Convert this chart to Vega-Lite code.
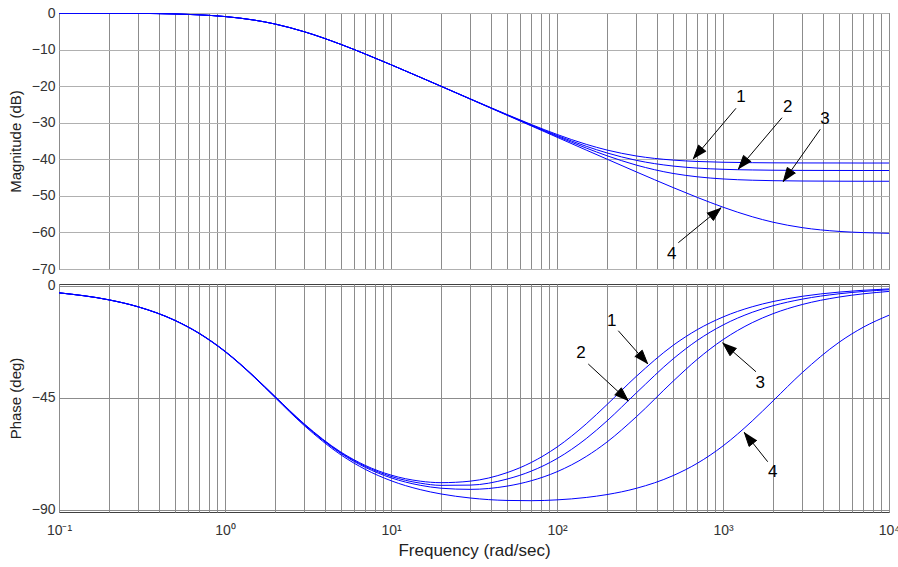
{
"$schema":"https://vega.github.io/schema/vega-lite/v6.json",
"padding":{"left":7,"top":5,"right":0,"bottom":0},
"background":"white",
"datasets":{
"bode":[
{"w":0.1,"c":"1","m":-0.01,"p":-2.84},{"w":0.2,"c":"1","m":-0.04,"p":-5.66},{"w":0.3,"c":"1","m":-0.10,"p":-8.46},{"w":0.5,"c":"1","m":-0.26,"p":-13.91},{"w":0.7,"c":"1","m":-0.50,"p":-19.11},{"w":1,"c":"1","m":-0.97,"p":-26.31},{"w":1.5,"c":"1","m":-1.94,"p":-36.49},{"w":2,"c":"1","m":-3.01,"p":-44.49},{"w":3,"c":"1","m":-5.12,"p":-55.55},{"w":5,"c":"1","m":-8.60,"p":-66.93},{"w":7,"c":"1","m":-11.22,"p":-72.27},{"w":10,"c":"1","m":-14.14,"p":-76.15},{"w":15,"c":"1","m":-17.56,"p":-78.60},{"w":20,"c":"1","m":-20.01,"p":-79.21},{"w":30,"c":"1","m":-23.46,"p":-78.60},{"w":50,"c":"1","m":-27.76,"p":-75.18},{"w":70,"c":"1","m":-30.48,"p":-71.08},{"w":100,"c":"1","m":-33.20,"p":-64.89},{"w":150,"c":"1","m":-35.91,"p":-55.55},{"w":200,"c":"1","m":-37.47,"p":-47.80},{"w":300,"c":"1","m":-39.09,"p":-36.49},{"w":500,"c":"1","m":-40.22,"p":-24.00},{"w":700,"c":"1","m":-40.60,"p":-17.66},{"w":1000,"c":"1","m":-40.81,"p":-12.57},{"w":1500,"c":"1","m":-40.93,"p":-8.45},{"w":2000,"c":"1","m":-40.97,"p":-6.36},{"w":3000,"c":"1","m":-41.00,"p":-4.25},{"w":5000,"c":"1","m":-41.01,"p":-2.56},{"w":7000,"c":"1","m":-41.02,"p":-1.82},{"w":10000,"c":"1","m":-41.02,"p":-1.28},
{"w":0.1,"c":"2","m":-0.01,"p":-2.84},{"w":0.2,"c":"2","m":-0.04,"p":-5.67},{"w":0.3,"c":"2","m":-0.10,"p":-8.47},{"w":0.5,"c":"2","m":-0.26,"p":-13.94},{"w":0.7,"c":"2","m":-0.50,"p":-19.15},{"w":1,"c":"2","m":-0.97,"p":-26.36},{"w":1.5,"c":"2","m":-1.94,"p":-36.57},{"w":2,"c":"2","m":-3.01,"p":-44.60},{"w":3,"c":"2","m":-5.12,"p":-55.71},{"w":5,"c":"2","m":-8.60,"p":-67.20},{"w":7,"c":"2","m":-11.22,"p":-72.64},{"w":10,"c":"2","m":-14.14,"p":-76.68},{"w":15,"c":"2","m":-17.57,"p":-79.40},{"w":20,"c":"2","m":-20.02,"p":-80.28},{"w":30,"c":"2","m":-23.49,"p":-80.18},{"w":50,"c":"2","m":-27.83,"p":-77.76},{"w":70,"c":"2","m":-30.63,"p":-74.56},{"w":100,"c":"2","m":-33.48,"p":-69.52},{"w":150,"c":"2","m":-36.44,"p":-61.48},{"w":200,"c":"2","m":-38.26,"p":-54.37},{"w":300,"c":"2","m":-40.28,"p":-43.15},{"w":500,"c":"2","m":-41.85,"p":-29.45},{"w":700,"c":"2","m":-42.41,"p":-21.99},{"w":1000,"c":"2","m":-42.74,"p":-15.80},{"w":1500,"c":"2","m":-42.92,"p":-10.68},{"w":2000,"c":"2","m":-42.99,"p":-8.05},{"w":3000,"c":"2","m":-43.04,"p":-5.39},{"w":5000,"c":"2","m":-43.06,"p":-3.24},{"w":7000,"c":"2","m":-43.07,"p":-2.31},{"w":10000,"c":"2","m":-43.07,"p":-1.62},
{"w":0.1,"c":"3","m":-0.01,"p":-2.85},{"w":0.2,"c":"3","m":-0.04,"p":-5.68},{"w":0.3,"c":"3","m":-0.10,"p":-8.49},{"w":0.5,"c":"3","m":-0.26,"p":-13.96},{"w":0.7,"c":"3","m":-0.50,"p":-19.19},{"w":1,"c":"3","m":-0.97,"p":-26.42},{"w":1.5,"c":"3","m":-1.94,"p":-36.66},{"w":2,"c":"3","m":-3.01,"p":-44.71},{"w":3,"c":"3","m":-5.12,"p":-55.88},{"w":5,"c":"3","m":-8.60,"p":-67.48},{"w":7,"c":"3","m":-11.22,"p":-73.05},{"w":10,"c":"3","m":-14.15,"p":-77.26},{"w":15,"c":"3","m":-17.57,"p":-80.26},{"w":20,"c":"3","m":-20.03,"p":-81.43},{"w":30,"c":"3","m":-23.52,"p":-81.90},{"w":50,"c":"3","m":-27.90,"p":-80.59},{"w":70,"c":"3","m":-30.75,"p":-78.43},{"w":100,"c":"3","m":-33.72,"p":-74.81},{"w":150,"c":"3","m":-36.93,"p":-68.68},{"w":200,"c":"3","m":-39.03,"p":-62.86},{"w":300,"c":"3","m":-41.58,"p":-52.75},{"w":500,"c":"3","m":-43.87,"p":-38.43},{"w":700,"c":"3","m":-44.79,"p":-29.58},{"w":1000,"c":"3","m":-45.38,"p":-21.69},{"w":1500,"c":"3","m":-45.72,"p":-14.85},{"w":2000,"c":"3","m":-45.85,"p":-11.25},{"w":3000,"c":"3","m":-45.94,"p":-7.55},{"w":5000,"c":"3","m":-45.99,"p":-4.55},{"w":7000,"c":"3","m":-46.01,"p":-3.25},{"w":10000,"c":"3","m":-46.01,"p":-2.28},
{"w":0.1,"c":"4","m":-0.01,"p":-2.86},{"w":0.2,"c":"4","m":-0.04,"p":-5.71},{"w":0.3,"c":"4","m":-0.10,"p":-8.52},{"w":0.5,"c":"4","m":-0.26,"p":-14.02},{"w":0.7,"c":"4","m":-0.50,"p":-19.27},{"w":1,"c":"4","m":-0.97,"p":-26.54},{"w":1.5,"c":"4","m":-1.94,"p":-36.83},{"w":2,"c":"4","m":-3.01,"p":-44.95},{"w":3,"c":"4","m":-5.12,"p":-56.23},{"w":5,"c":"4","m":-8.60,"p":-68.06},{"w":7,"c":"4","m":-11.22,"p":-73.86},{"w":10,"c":"4","m":-14.15,"p":-78.42},{"w":15,"c":"4","m":-17.58,"p":-82.00},{"w":20,"c":"4","m":-20.04,"p":-83.74},{"w":30,"c":"4","m":-23.54,"p":-85.37},{"w":50,"c":"4","m":-27.96,"p":-86.35},{"w":70,"c":"4","m":-30.88,"p":-86.45},{"w":100,"c":"4","m":-33.97,"p":-86.12},{"w":150,"c":"4","m":-37.48,"p":-85.15},{"w":200,"c":"4","m":-39.96,"p":-83.99},{"w":300,"c":"4","m":-43.43,"p":-81.49},{"w":500,"c":"4","m":-47.72,"p":-76.38},{"w":700,"c":"4","m":-50.42,"p":-71.41},{"w":1000,"c":"4","m":-53.09,"p":-64.43},{"w":1500,"c":"4","m":-55.71,"p":-54.38},{"w":2000,"c":"4","m":-57.20,"p":-46.34},{"w":3000,"c":"4","m":-58.69,"p":-34.95},{"w":5000,"c":"4","m":-59.72,"p":-22.76},{"w":7000,"c":"4","m":-60.05,"p":-16.68},{"w":10000,"c":"4","m":-60.24,"p":-11.85}
],
"labels":[
{"panel":"mag","id":"1","w":1283,"v":-22.9},{"panel":"mag","id":"2","w":2453,"v":-25.62},{"panel":"mag","id":"3","w":4115,"v":-29.07},{"panel":"mag","id":"4","w":491,"v":-65.9},
{"panel":"ph","id":"1","w":214,"v":-14.06},{"panel":"ph","id":"2","w":139.5,"v":-27.18},{"panel":"ph","id":"3","w":1677,"v":-39.0},{"panel":"ph","id":"4","w":1993,"v":-74.8}
],
"rules":[
{"panel":"mag","id":"1","w":1197,"v":-26.06,"w2":662,"v2":-39.92},{"panel":"mag","id":"2","w":2266,"v":-28.63,"w2":1237,"v2":-42.74},{"panel":"mag","id":"3","w":3855,"v":-31.8,"w2":2307,"v2":-46.13},{"panel":"mag","id":"4","w":538,"v":-62.81,"w2":973,"v2":-53.24},
{"panel":"ph","id":"1","w":234,"v":-18.09,"w2":352,"v2":-31.48},{"panel":"ph","id":"2","w":154.3,"v":-31.48,"w2":268.9,"v2":-46.36},{"panel":"ph","id":"3","w":1580,"v":-34.58,"w2":995.9,"v2":-22.91},{"panel":"ph","id":"4","w":1859,"v":-70.78,"w2":1344,"v2":-58.95}
],
"heads":[
{"panel":"mag","id":"1","w":662,"v":-39.92},{"panel":"mag","id":"1","w":791.1,"v":-37.87},{"panel":"mag","id":"1","w":711.9,"v":-36.12},
{"panel":"mag","id":"2","w":1237,"v":-42.74},{"panel":"mag","id":"2","w":1479,"v":-40.69},{"panel":"mag","id":"2","w":1329,"v":-38.94},
{"panel":"mag","id":"3","w":2307,"v":-46.13},{"panel":"mag","id":"3","w":2734,"v":-43.81},{"panel":"mag","id":"3","w":2440,"v":-42.22},
{"panel":"mag","id":"4","w":973,"v":-53.24},{"panel":"mag","id":"4","w":801.0,"v":-54.61},{"panel":"mag","id":"4","w":875.5,"v":-56.74},
{"panel":"ph","id":"1","w":352,"v":-31.48},{"panel":"ph","id":"1","w":326.1,"v":-25.92},{"panel":"ph","id":"1","w":293.9,"v":-28.58},
{"panel":"ph","id":"2","w":268.9,"v":-46.36},{"panel":"ph","id":"2","w":244.3,"v":-41.05},{"panel":"ph","id":"2","w":222.3,"v":-44.02},
{"panel":"ph","id":"3","w":995.9,"v":-22.91},{"panel":"ph","id":"3","w":1102,"v":-28.14},{"panel":"ph","id":"3","w":1207,"v":-25.08},
{"panel":"ph","id":"4","w":1344,"v":-58.95},{"panel":"ph","id":"4","w":1436,"v":-64.62},{"panel":"ph","id":"4","w":1600,"v":-62.12}
]
},
"spacing":15,
"bounds":"flush",
"vconcat":[
{
"width":830,"height":256,
"encoding":{
"x":{"field":"w","type":"quantitative","scale":{"type":"log","domain":[0.1,10000],"nice":false},
"axis":{"values":[0.1,0.2,0.3,0.4,0.5,0.6,0.7,0.8,0.9,1,2,3,4,5,6,7,8,9,10,20,30,40,50,60,70,80,90,100,200,300,400,500,600,700,800,900,1000,2000,3000,4000,5000,6000,7000,8000,9000,10000],"labels":false,"title":null,"gridColor":"#8c8c8c"}},
"y":{"field":"v","type":"quantitative","scale":{"domain":[-70,0],"nice":false,"zero":false},
"axis":{"values":[0,-10,-20,-30,-40,-50,-60,-70],"title":"Magnitude (dB)","titleFontSize":15,"titlePadding":8,"labelFontSize":14,"labelPadding":4,"gridColor":"#b0b0b0"}}
},
"layer":[
{"data":{"name":"bode"},"transform":[{"fold":["m","p"],"as":["q","v"]},{"filter":"datum.q=='m'"}],
"mark":{"type":"line","color":"#0000ff","strokeWidth":1,"interpolate":"monotone","clip":true},
"encoding":{"detail":{"field":"c"}}},
{"data":{"name":"rules"},"transform":[{"filter":"datum.panel=='mag'"}],
"mark":{"type":"rule","color":"black","strokeWidth":1},
"encoding":{"x2":{"field":"w2"},"y2":{"field":"v2"}}},
{"data":{"name":"heads"},"transform":[{"filter":"datum.panel=='mag'"}],
"mark":{"type":"line","stroke":"black","fill":"black","strokeWidth":1,"strokeJoin":"miter"},
"encoding":{"detail":{"field":"id"}}},
{"data":{"name":"labels"},"transform":[{"filter":"datum.panel=='mag'"}],
"mark":{"type":"text","fontSize":17,"font":"Liberation Sans","color":"black","align":"center","baseline":"middle"},
"encoding":{"text":{"field":"id"}}}
]
},
{
"width":830,"height":228,
"encoding":{
"x":{"field":"w","type":"quantitative","scale":{"type":"log","domain":[0.1,10000],"nice":false},
"axis":{"values":[0.1,0.2,0.3,0.4,0.5,0.6,0.7,0.8,0.9,1,2,3,4,5,6,7,8,9,10,20,30,40,50,60,70,80,90,100,200,300,400,500,600,700,800,900,1000,2000,3000,4000,5000,6000,7000,8000,9000,10000],
"labelExpr":"datum.value==0.1?'10⁻¹':datum.value==1?'10⁰':datum.value==10?'10¹':datum.value==100?'10²':datum.value==1000?'10³':datum.value==10000?'10⁴':''",
"labelFontSize":14,"labelPadding":11,"labelOverlap":false,"labelFlush":false,"labelBound":false,
"title":"Frequency (rad/sec)","titleFontSize":17,"titlePadding":5,"gridColor":"#8c8c8c"}},
"y":{"field":"v","type":"quantitative","scale":{"domain":[-91,0.7],"nice":false,"zero":false},
"axis":{"values":[0,-45,-90],"title":"Phase (deg)","titleFontSize":15,"titlePadding":8,"labelFontSize":14,"labelPadding":4,"gridColor":"#8c8c8c"}}
},
"layer":[
{"data":{"name":"bode"},"transform":[{"fold":["m","p"],"as":["q","v"]},{"filter":"datum.q=='p'"}],
"mark":{"type":"line","color":"#0000ff","strokeWidth":1,"interpolate":"monotone","clip":true},
"encoding":{"detail":{"field":"c"}}},
{"data":{"name":"rules"},"transform":[{"filter":"datum.panel=='ph'"}],
"mark":{"type":"rule","color":"black","strokeWidth":1},
"encoding":{"x2":{"field":"w2"},"y2":{"field":"v2"}}},
{"data":{"name":"heads"},"transform":[{"filter":"datum.panel=='ph'"}],
"mark":{"type":"line","stroke":"black","fill":"black","strokeWidth":1,"strokeJoin":"miter"},
"encoding":{"detail":{"field":"id"}}},
{"data":{"name":"labels"},"transform":[{"filter":"datum.panel=='ph'"}],
"mark":{"type":"text","fontSize":17,"font":"Liberation Sans","color":"black","align":"center","baseline":"middle"},
"encoding":{"text":{"field":"id"}}}
]
}
],
"config":{
"font":"Liberation Sans",
"view":{"stroke":"#404040","strokeWidth":1},
"axis":{"labelFont":"Liberation Sans","titleFont":"Liberation Sans","labelColor":"#333333","titleColor":"#222222","titleFontWeight":"normal","grid":true,"gridWidth":1,"gridOpacity":1,"domain":false,"ticks":false}
}
}
